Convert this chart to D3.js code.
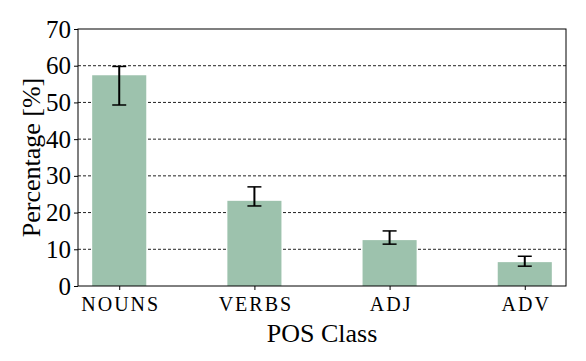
<!DOCTYPE html>
<html>
<head>
<meta charset="utf-8">
<script src="https://cdn.jsdelivr.net/npm/d3@7"></script>
<style>
  body { margin: 0; background: #fff; }
  svg { display: block; font-family: "Liberation Serif", "Times New Roman", serif; }
</style>
</head>
<body>
<svg id="chart" width="586" height="361"></svg>
<script>
// data
const categories = ["NOUNS", "VERBS", "ADJ", "ADV"];
const percentages = [57.4, 23.2, 12.5, 6.5];
const errLow = [49.3, 21.8, 11.4, 5.4];
const errHigh = [59.8, 27.0, 15.0, 8.1];
const yTicks = [0, 10, 20, 30, 40, 50, 60, 70];

const svg = d3.select("#chart");
const margin = {left: 78, right: 20, top: 29, bottom: 75};
const W = 586, H = 361;
const plotW = W - margin.left - margin.right;
const plotH = H - margin.top - margin.bottom;

const g = svg.append("g").attr("transform", `translate(${margin.left},${margin.top})`);

// x: categorical positions on a linear scale (like matplotlib)
const x = d3.scaleLinear().domain([-0.305, categories.length - 1 + 0.305]).range([0, plotW]);
const y = d3.scaleLinear().domain([0, 70]).range([plotH, 0]);
const barW = x(0.4) - x(0);

// dashed grid
g.selectAll(".grid")
  .data(yTicks.filter(t => t > 0 && t < 70))
  .join("line")
  .attr("x1", 0).attr("x2", plotW)
  .attr("y1", d => y(d)).attr("y2", d => y(d))
  .attr("stroke", "#222").attr("stroke-width", 1)
  .attr("stroke-dasharray", "3,2");

// bars
g.selectAll(".bar")
  .data(percentages)
  .join("rect")
  .attr("x", (d, i) => x(i) - barW / 2)
  .attr("y", d => y(d))
  .attr("width", barW)
  .attr("height", d => plotH - y(d))
  .attr("fill", "#9dc2ad");

// error bars
const capW = 7;
const eb = g.selectAll(".err").data(categories).join("g");
eb.append("line")
  .attr("x1", (d, i) => x(i)).attr("x2", (d, i) => x(i))
  .attr("y1", (d, i) => y(errLow[i])).attr("y2", (d, i) => y(errHigh[i]))
  .attr("stroke", "#000").attr("stroke-width", 2);
eb.append("line")
  .attr("x1", (d, i) => x(i) - capW).attr("x2", (d, i) => x(i) + capW)
  .attr("y1", (d, i) => y(errLow[i])).attr("y2", (d, i) => y(errLow[i]))
  .attr("stroke", "#000").attr("stroke-width", 1.5);
eb.append("line")
  .attr("x1", (d, i) => x(i) - capW).attr("x2", (d, i) => x(i) + capW)
  .attr("y1", (d, i) => y(errHigh[i])).attr("y2", (d, i) => y(errHigh[i]))
  .attr("stroke", "#000").attr("stroke-width", 1.5);

// axes
const yAxis = g.append("g")
  .call(d3.axisLeft(y).tickValues(yTicks).tickSize(4).tickPadding(3));
yAxis.selectAll("text").attr("font-size", 25).attr("fill", "#000").attr("font-family", "Liberation Serif");
yAxis.select(".domain").remove();
yAxis.selectAll("line").attr("stroke", "#000");

const xAxis = g.append("g")
  .attr("transform", `translate(0,${plotH})`)
  .call(d3.axisBottom(x).tickValues(d3.range(categories.length)).tickFormat(i => categories[i]).tickSize(4).tickPadding(7));
xAxis.selectAll("text").attr("font-size", 20).attr("fill", "#000").attr("font-family", "Liberation Serif")
  .attr("letter-spacing", 2).attr("dx", 1);
xAxis.select(".domain").remove();
xAxis.selectAll("line").attr("stroke", "#000");

// frame
g.append("rect")
  .attr("x", 0).attr("y", 0).attr("width", plotW).attr("height", plotH)
  .attr("fill", "none").attr("stroke", "#000").attr("stroke-width", 1);

// titles
svg.append("text")
  .attr("x", margin.left + plotW / 2).attr("y", 342)
  .attr("text-anchor", "middle").attr("font-size", 26)
  .text("POS Class");
svg.append("text")
  .attr("transform", `translate(40,${margin.top + plotH / 2}) rotate(-90)`)
  .attr("text-anchor", "middle").attr("font-size", 26)
  .text("Percentage [%]");
</script>
</body>
</html>
